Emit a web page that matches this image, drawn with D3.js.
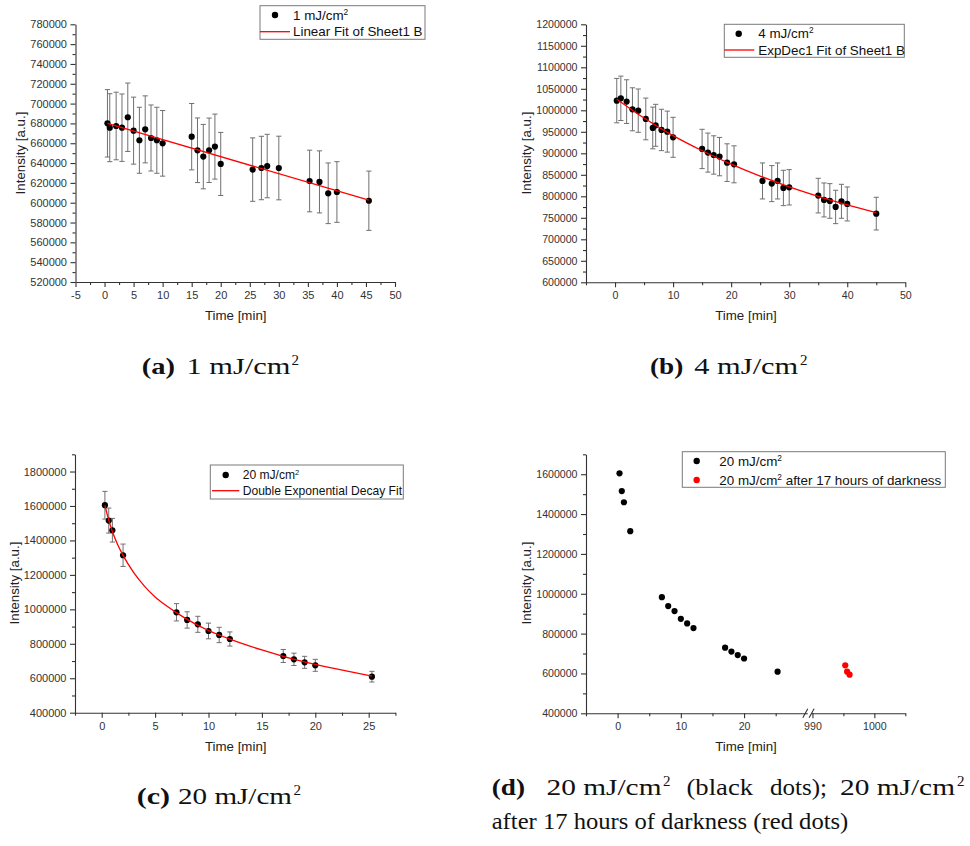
<!DOCTYPE html>
<html>
<head>
<meta charset="utf-8">
<script src="https://cdn.jsdelivr.net/npm/d3@7"></script>
<style>
  body { margin: 0; background: #fff; }
  svg { display: block; }
  .axis-title { font-family: "Liberation Sans", Arial, sans-serif; font-size: 13.3px; fill: #222; }
  .legend-text { font-family: "Liberation Sans", Arial, sans-serif; fill: #111; }
  .caption { font-family: "Liberation Serif", "Times New Roman", serif; fill: #111; }
</style>
</head>
<body>
<svg id="fig" width="970" height="846"></svg>
<script>
// ---- (a) 1 mJ/cm2, linear fit ----
const timeA = [0.5, 0.9, 2, 3, 4, 5, 6, 7, 8, 9, 10, 15, 16, 17, 18, 19, 20, 25.5, 27, 28, 30, 35.3, 37, 38.5, 40, 45.5];
const intensityA = [680100, 675700, 677400, 675700, 686200, 672700, 663000, 674000, 665300, 663000, 659900, 666600, 652900, 646500, 652900, 656600, 639100, 633400, 635000, 637000, 635000, 621900, 621000, 609500, 610800, 602000];
const errorA = [34000, 34300, 34100, 34000, 34500, 33800, 33300, 33800, 33300, 33300, 33100, 33500, 32600, 32500, 32500, 32800, 31800, 32000, 32000, 32000, 32100, 31100, 31300, 30600, 30600, 29900];
const fitTimeA = [0.5, 45.5];
const fitA = [680000, 602700];
const xTicksA = [-5, 0, 5, 10, 15, 20, 25, 30, 35, 40, 45, 50];
const yTicksA = [520000, 540000, 560000, 580000, 600000, 620000, 640000, 660000, 680000, 700000, 720000, 740000, 760000, 780000];

// ---- (b) 4 mJ/cm2, single exponential fit ----
const timeB = [0.3, 1, 2, 3, 4, 5.3, 6.5, 7, 8, 9, 10, 15, 16, 17, 18, 19.3, 20.5, 25.4, 27, 28, 29, 30, 35, 36, 37, 38, 39, 40, 45];
const intensityB = [1022500, 1027900, 1020200, 1002300, 999200, 979900, 958900, 965100, 954300, 950400, 937200, 910100, 901600, 896100, 892300, 878300, 874400, 835700, 829500, 835700, 819400, 820900, 801600, 791500, 789200, 775200, 788400, 782200, 759700];
const errorB = [51600, 51600, 50800, 50000, 50400, 48500, 48500, 48800, 48100, 47700, 46500, 45700, 45400, 44600, 44600, 43800, 43000, 41900, 41900, 41900, 41100, 41100, 40300, 39500, 40300, 38800, 39500, 39500, 38000];
const fitTimeB = [0.3, 5, 10, 15, 20, 25, 30, 35, 40, 45];
const fitB = [1026000, 982000, 941000, 906000, 875000, 847000, 822000, 800000, 780000, 762000];
const xTicksB = [0, 10, 20, 30, 40, 50];
const yTicksB = [600000, 650000, 700000, 750000, 800000, 850000, 900000, 950000, 1000000, 1050000, 1100000, 1150000, 1200000];

// ---- (c) 20 mJ/cm2, double exponential fit ----
const timeC = [0.3, 0.66, 1, 2, 7, 8, 9, 10, 11, 12, 17, 18, 19, 20, 25.3];
const intensityC = [1604400, 1515400, 1459200, 1314000, 982900, 938300, 913100, 874400, 851200, 827900, 729200, 709800, 692400, 675000, 609100];
const errorC = [80400, 72600, 68700, 64900, 50300, 47400, 46500, 45500, 44500, 41000, 37800, 35800, 34800, 34800, 31000];
const fitTimeC = [0.3, 0.66, 1, 1.5, 2, 3, 4, 5, 6, 7, 8, 10, 12, 15, 17, 20, 23, 25.3];
const fitC = [1604000, 1518000, 1452000, 1375000, 1313000, 1213000, 1135000, 1072000, 1024000, 981000, 942000, 877000, 827000, 764000, 727000, 680000, 641000, 612000];
const xTicksC = [0, 5, 10, 15, 20, 25];
const yTicksC = [400000, 600000, 800000, 1000000, 1200000, 1400000, 1600000, 1800000];

// ---- (d) 20 mJ/cm2 and the same after 17 h of darkness ----
const timeDRed = [995.3, 995.6, 996.0];
const intensityDRed = [640600, 608800, 593800];
const xTicksD1 = [0, 10, 20];
const xTicksD2 = [990, 1000];
const yTicksD = [400000, 600000, 800000, 1000000, 1200000, 1400000, 1600000];

const AXIS = "#333";
const ERR = "#707070";
const RED = "#ff0000";
const FONT = '"Liberation Sans", Arial, sans-serif';

const svg = d3.select("#fig");

function styleAxis(sel, fs) {
  sel.attr("font-family", FONT).attr("font-size", fs);
  sel.select(".domain").attr("stroke", AXIS).attr("stroke-width", 1.1);
  sel.selectAll(".tick line").attr("stroke", AXIS).attr("stroke-width", 1.1);
  sel.selectAll(".tick text").attr("fill", "#333");
}

function leftAxis(g, y, x0, major, minorStep, fs) {
  const ax = g.append("g").attr("transform", `translate(${x0},0)`)
    .call(d3.axisLeft(y).tickValues(major).tickSizeInner(5).tickSizeOuter(0)
      .tickPadding(3.5).tickFormat(d => String(d)));
  styleAxis(ax, fs);
  const [lo, hi] = y.domain();
  const minor = d3.range(lo + minorStep, hi + 1, minorStep * 2);
  const mx = g.append("g").attr("transform", `translate(${x0},0)`)
    .call(d3.axisLeft(y).tickValues(minor).tickSize(3).tickFormat(""));
  mx.select(".domain").remove();
  styleAxis(mx, fs);
}

function bottomAxis(g, x, y0, major, minor, fs) {
  const ax = g.append("g").attr("transform", `translate(0,${y0})`)
    .call(d3.axisBottom(x).tickValues(major).tickSizeInner(5).tickSizeOuter(0)
      .tickPadding(4.5).tickFormat(d => String(d)));
  styleAxis(ax, fs);
  const mx = g.append("g").attr("transform", `translate(0,${y0})`)
    .call(d3.axisBottom(x).tickValues(minor).tickSize(3).tickFormat(""));
  mx.select(".domain").remove();
  styleAxis(mx, fs);
}

function titles(g, xc, xy, yx, yc) {
  g.append("text").attr("class", "axis-title").attr("x", xc).attr("y", xy)
    .attr("text-anchor", "middle").text("Time [min]");
  g.append("text").attr("class", "axis-title")
    .attr("transform", `translate(${yx},${yc}) rotate(-90)`)
    .attr("text-anchor", "middle").text("Intensity [a.u.]");
}

function errorBars(g, x, y, t, v, e) {
  const eb = g.append("g").attr("stroke", ERR).attr("stroke-width", 1);
  t.forEach((ti, i) => {
    const cx = x(ti), top = y(v[i] + e[i]), bot = y(v[i] - e[i]);
    eb.append("line").attr("x1", cx).attr("x2", cx).attr("y1", top).attr("y2", bot);
    eb.append("line").attr("x1", cx - 2.6).attr("x2", cx + 2.6).attr("y1", top).attr("y2", top);
    eb.append("line").attr("x1", cx - 2.6).attr("x2", cx + 2.6).attr("y1", bot).attr("y2", bot);
  });
}

function dots(g, x, y, t, v, color) {
  g.append("g").selectAll("circle").data(t).join("circle")
    .attr("cx", d => x(d)).attr("cy", (d, i) => y(v[i])).attr("r", 3.1).attr("fill", color);
}

function fitLine(g, x, y, t, v, curve) {
  const pts = t.map((d, i) => [d, v[i]]);
  g.append("path").datum(pts)
    .attr("d", d3.line().x(d => x(d[0])).y(d => y(d[1])).curve(curve))
    .attr("fill", "none").attr("stroke", RED).attr("stroke-width", 1.3);
}

// text with optional superscript pieces
function rich(text, parts, supSize, supShift) {
  let pending = 0;
  parts.forEach(p => {
    if (typeof p === "string") {
      text.append("tspan").attr("dy", pending || null).text(p);
      pending = 0;
    } else if (p.sup) {
      text.append("tspan").attr("font-size", supSize).attr("dy", -supShift).text(p.sup);
      pending = supShift;
    }
  });
  return text;
}

function legend(g, box, fs, entries) {
  const lg = g.append("g");
  lg.append("rect").attr("x", box[0]).attr("y", box[1])
    .attr("width", box[2] - box[0]).attr("height", box[3] - box[1])
    .attr("fill", "#fff").attr("stroke", "#7a7a7a").attr("stroke-width", 1);
  entries.forEach(en => {
    if (en.type === "dot") {
      lg.append("circle").attr("cx", en.sx).attr("cy", en.cy).attr("r", 3.2).attr("fill", en.color);
    } else {
      lg.append("line").attr("x1", en.sx).attr("x2", en.sx2).attr("y1", en.cy).attr("y2", en.cy)
        .attr("stroke", en.color).attr("stroke-width", 1.3);
    }
    rich(lg.append("text").attr("class", "legend-text").attr("font-size", fs)
      .attr("x", en.tx).attr("y", en.cy + fs * 0.35), en.label, fs * 0.62, fs * 0.38);
  });
}

// ================= panel (a) =================
{
  const g = svg.append("g");
  const x = d3.scaleLinear([-5, 50], [75.5, 395]);
  const y = d3.scaleLinear([520000, 780000], [282, 24.3]);
  errorBars(g, x, y, timeA, intensityA, errorA);
  dots(g, x, y, timeA, intensityA, "#000");
  fitLine(g, x, y, fitTimeA, fitA, d3.curveLinear);
  leftAxis(g, y, x.range()[0], yTicksA, 10000, 11);
  bottomAxis(g, x, y.range()[0], xTicksA, d3.range(-2.5, 50, 5), 11);
  titles(g, 235.7, 319.5, 25, 153);
  legend(g, [260, 5.7, 425, 39.3], 13.4, [
    { type: "dot", sx: 275, cy: 15, color: "#000", tx: 293, label: ["1 mJ/cm", { sup: "2" }] },
    { type: "line", sx: 260, sx2: 290, cy: 31.7, color: RED, tx: 293, label: ["Linear Fit of Sheet1 B"] }
  ]);
}

// ================= panel (b) =================
{
  const g = svg.append("g");
  const x = d3.scaleLinear([-5, 50], [586, 905.3]);
  const y = d3.scaleLinear([600000, 1200000], [282.3, 24.3]);
  errorBars(g, x, y, timeB, intensityB, errorB);
  dots(g, x, y, timeB, intensityB, "#000");
  fitLine(g, x, y, fitTimeB, fitB, d3.curveMonotoneX);
  leftAxis(g, y, x.range()[0], yTicksB, 25000, 10.6);
  bottomAxis(g, x, y.range()[0], xTicksB, [-5, 5, 15, 25, 35, 45], 10.6);
  titles(g, 746, 319.5, 530.5, 153);
  legend(g, [724.3, 24.3, 904.3, 57.3], 13.4, [
    { type: "dot", sx: 738.7, cy: 33.7, color: "#000", tx: 758.3, label: ["4 mJ/cm", { sup: "2" }] },
    { type: "line", sx: 724.3, sx2: 754.3, cy: 50, color: RED, tx: 758.3, label: ["ExpDec1 Fit of Sheet1 B"] }
  ]);
}

// ================= panel (c) =================
{
  const g = svg.append("g");
  const x = d3.scaleLinear([-2.5, 27.5], [75, 395.4]);
  const y = d3.scaleLinear([400000, 1900000], [712.7, 454.3]);
  errorBars(g, x, y, timeC, intensityC, errorC);
  dots(g, x, y, timeC, intensityC, "#000");
  fitLine(g, x, y, fitTimeC, fitC, d3.curveMonotoneX);
  leftAxis(g, y, x.range()[0], yTicksC, 100000, 11);
  bottomAxis(g, x, y.range()[0], xTicksC, d3.range(-2.5, 28, 5), 11);
  titles(g, 235.7, 750.5, 19, 583);
  legend(g, [210.3, 465, 403.3, 499], 12.1, [
    { type: "dot", sx: 225.7, cy: 475, color: "#000", tx: 242.7, label: ["20 mJ/cm", { sup: "2" }] },
    { type: "line", sx: 212, sx2: 239.3, cy: 490.7, color: RED, tx: 242.7, label: ["Double Exponential Decay Fit"] }
  ]);
}

// ================= panel (d) =================
{
  const g = svg.append("g");
  const x1 = d3.scaleLinear([-5, 30], [586, 807.3]);
  const x2 = d3.scaleLinear([989.7, 1005], [810.6, 905.3]);
  const y = d3.scaleLinear([400000, 1700000], [713.3, 454.3]);
  dots(g, x1, y, timeC, intensityC, "#000");
  dots(g, x2, y, timeDRed, intensityDRed, RED);
  leftAxis(g, y, x1.range()[0], yTicksD, 100000, 10.6);
  bottomAxis(g, x1, y.range()[0], xTicksD1, [-5, 5, 15, 25], 10.6);
  bottomAxis(g, x2, y.range()[0], xTicksD2, [995, 1005], 10.6);
  // axis break marks
  const y0 = y.range()[0];
  [x1.range()[1] - 2, x2.range()[0] + 1].forEach(bx => {
    g.append("line").attr("x1", bx - 2.5).attr("x2", bx + 2.5).attr("y1", y0 + 4.5).attr("y2", y0 - 4.5)
      .attr("stroke", AXIS).attr("stroke-width", 1.1);
  });
  titles(g, 746, 750.5, 530.5, 583);
  legend(g, [682.3, 451.7, 945.3, 487.3], 13.4, [
    { type: "dot", sx: 696.7, cy: 461, color: "#000", tx: 719.3, label: ["20 mJ/cm", { sup: "2" }] },
    { type: "dot", sx: 696.7, cy: 480, color: RED, tx: 719.3, label: ["20 mJ/cm", { sup: "2" }, " after 17 hours of darkness"] }
  ]);
}

// ================= sub-captions =================
// each run of a caption is set to the width it occupies in the typeset line
function capRun(x, y, str, width, opt = {}) {
  const t = svg.append("text").attr("class", "caption").attr("x", x).attr("y", y)
    .style("font-size", "23px").text(str);
  if (opt.bold) t.style("font-weight", "bold");
  if (opt.sup) t.style("font-size", "15px").attr("y", y - 9);
  if (width) t.attr("textLength", width).attr("lengthAdjust", "spacingAndGlyphs");
  return t;
}
function captionLine(y, runs) {
  runs.forEach(r => capRun(r[0], y, r[1], r[2], r[3]));
}
const BOLD = { bold: true }, SUP = { sup: true };

captionLine(373.5, [[141.7, "(a)", 33.3, BOLD], [186.5, "1 mJ/cm", 104], [291.5, "2", 0, SUP]]);
captionLine(373.5, [[650, "(b)", 33.3, BOLD], [694.3, "4 mJ/cm", 104], [800, "2", 0, SUP]]);
captionLine(804, [[136.7, "(c)", 33.3, BOLD], [178, "20 mJ/cm", 114], [293.5, "2", 0, SUP]]);
captionLine(795, [
  [491.7, "(d)", 33.3, BOLD], [546.5, "20 mJ/cm", 115], [663, "2", 0, SUP],
  [686.5, "(black", 66.5], [770, "dots);", 57], [840, "20 mJ/cm", 115], [957, "2", 0, SUP]
]);
captionLine(828.5, [[491.7, "after 17 hours of darkness (red dots)", 356.6]]);
</script>
</body>
</html>
